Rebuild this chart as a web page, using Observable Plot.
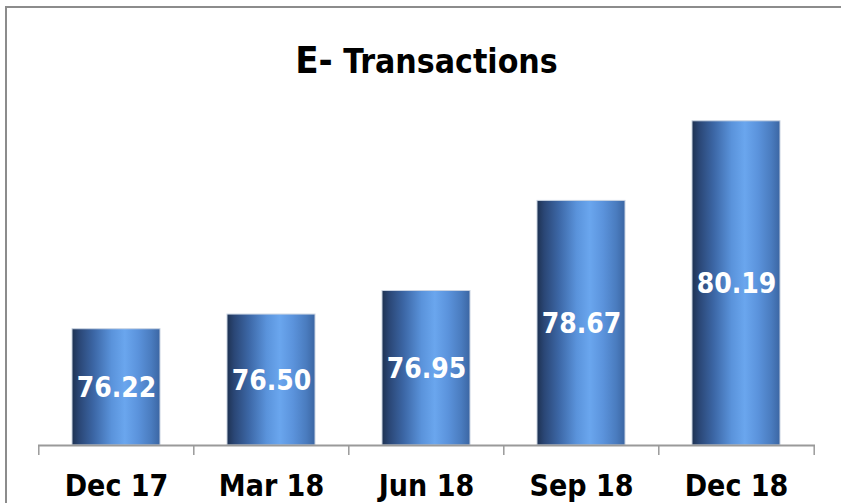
<!DOCTYPE html>
<html>
<head>
<meta charset="utf-8">
<script src="https://cdn.jsdelivr.net/npm/d3@7"></script>
<script src="https://cdn.jsdelivr.net/npm/@observablehq/plot@0.6"></script>
<style>
  html, body { margin: 0; padding: 0; background: #fff; overflow: hidden; }
  #wrap { position: relative; width: 841px; height: 503px; }
  #frame { position: absolute; left: 5px; top: 6px; width: 900px; height: 600px;
           border-left: 2px solid #8c8c8c; border-top: 2px solid #8c8c8c; box-sizing: border-box; }
  #title { position: absolute; left: 38px; width: 777px; top: 41px; text-align: center;
           font-family: "DejaVu Sans Condensed", "DejaVu Sans", sans-serif; font-weight: bold; color: #000; line-height: 1; }
  #title .big { font-size: 38px; }
  #title .rest { font-size: 33.5px; }
  #chart { position: absolute; left: 0; top: 0; }
</style>
</head>
<body>
<div id="wrap">
  <div id="frame"></div>
  <div id="chart"></div>
  <div id="title"><span class="big">E-</span><span class="rest"> Transactions</span></div>
</div>
<script>
const categories = ["Dec 17", "Mar 18", "Jun 18", "Sep 18", "Dec 18"];
const values = [76.22, 76.50, 76.95, 78.67, 80.19];
const valueLabels = ["76.22", "76.50", "76.95", "78.67", "80.19"];
const yDomain = [74, 82];

const data = categories.map((c, i) => ({ cat: c, v: values[i], label: valueLabels[i] }));

const W = 841, H = 503, ML = 38, MR = 26, MT = 26, MB = 58;
const step = (W - ML - MR) / categories.length;
const font = '"DejaVu Sans Condensed", "DejaVu Sans", sans-serif';

const plot = Plot.plot({
  width: W,
  height: H,
  marginLeft: ML,
  marginRight: MR,
  marginTop: MT,
  marginBottom: MB,
  style: { fontFamily: font, background: "transparent", overflow: "visible" },
  x: { domain: categories, paddingInner: 0.43, paddingOuter: 0.215, label: null },
  y: { domain: yDomain, axis: null },
  marks: [
    Plot.barY(data, { x: "cat", y1: yDomain[0], y2: "v", fill: "url(#barGrad)", stroke: "#c9d3e2", strokeWidth: 1 }),
    Plot.ruleY([yDomain[0]], { stroke: "#9a9a9a", strokeWidth: 2 }),
    Plot.axisX({ tickSize: 10, text: null, label: null, dx: -step / 2, stroke: "#9a9a9a", strokeWidth: 1.5 }),
    Plot.axisX({ ticks: [categories[categories.length - 1]], tickSize: 10, text: null, label: null, dx: step / 2, stroke: "#9a9a9a", strokeWidth: 1.5 }),
    Plot.axisX({ tickSize: 0, tickPadding: 29, label: null, fontSize: 30, fontWeight: "bold", fill: "#000", fontFamily: font }),
    Plot.text(data, { x: "cat", y: d => (yDomain[0] + d.v) / 2, text: "label", fill: "#fff", fontSize: 28, fontWeight: "bold", fontFamily: font, textAnchor: "middle", dy: 1 })
  ]
});

const svg = d3.select(plot);
const defs = svg.insert("defs", ":first-child");
const grad = defs.append("linearGradient").attr("id", "barGrad").attr("x1", "0%").attr("x2", "100%").attr("y1", "0%").attr("y2", "0%");
[["0%", "#1e3252"], ["8%", "#2a4675"], ["25%", "#3c67a6"], ["45%", "#5a93db"], ["60%", "#6aa6ee"], ["75%", "#5b93dc"], ["90%", "#4a7cbf"], ["100%", "#3b66a3"]]
  .forEach(([o, c]) => grad.append("stop").attr("offset", o).attr("stop-color", c));

document.getElementById("chart").appendChild(plot);
</script>
</body>
</html>
